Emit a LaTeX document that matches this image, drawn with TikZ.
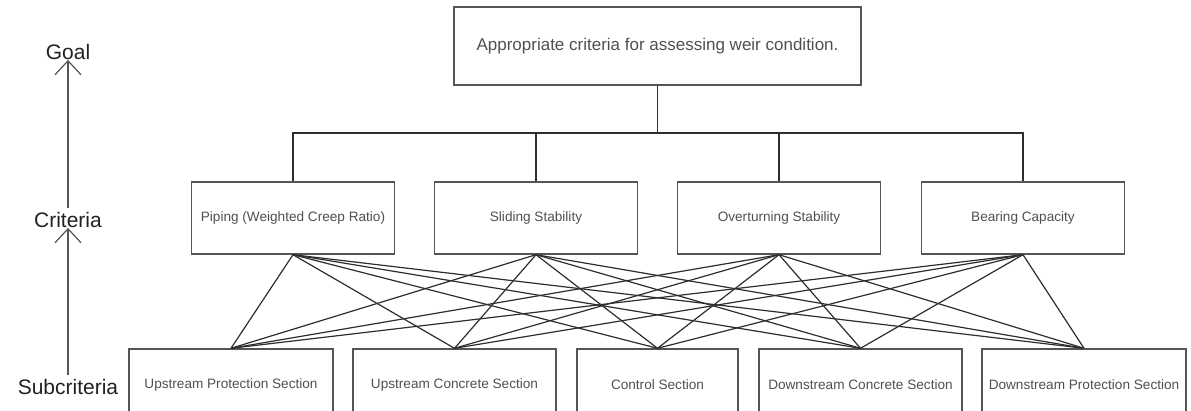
\documentclass[tikz,border=0pt]{standalone}
\usepackage{fontspec}
\setmainfont{Liberation Sans}
\usetikzlibrary{arrows.meta}
\definecolor{boxline}{HTML}{555555}
\definecolor{linkline}{HTML}{2E2E2E}
\definecolor{boxtext}{HTML}{505050}
\definecolor{leveltext}{HTML}{222222}
\tikzset{
  box/.style={draw=boxline, line width=1.4pt, inner sep=0pt, align=center,
              text=boxtext, minimum height=72pt},
  goalbox/.style={box, minimum width=407pt, minimum height=78pt,
                  font=\fontsize{17}{20}\selectfont},
  critbox/.style={box, minimum width=203pt, font=\fontsize{13.6}{16}\selectfont},
  subbox/.style={box, font=\fontsize{13.6}{16}\selectfont},
  link/.style={draw=linkline, line width=1.2pt},
  level/.style={inner sep=0pt, text=leveltext, font=\fontsize{21}{24}\selectfont},
  levelarrow/.style={draw=boxline, line width=1.2pt,
                     -{Straight Barb[length=14pt, width=26pt, line width=1.2pt]}}
}
\begin{document}
\begin{tikzpicture}[x=1pt, y=-1pt]
  \clip (0,0) rectangle (1191,411);
  \fill[white] (0,0) rectangle (1191,411);

  % goal
  \node[goalbox] (goal) at (657.5,46) {Appropriate criteria for assessing weir condition.};

  % criteria
  \node[critbox] (c1) at (293,218) {Piping (Weighted Creep Ratio)};
  \node[critbox] (c2) at (536,218) {Sliding Stability};
  \node[critbox] (c3) at (779,218) {Overturning Stability};
  \node[critbox] (c4) at (1023,218) {Bearing Capacity};

  % subcriteria
  \node[subbox, minimum width=204pt] (s1) at (231,385) {Upstream Protection Section};
  \node[subbox, minimum width=203pt] (s2) at (454.5,385) {Upstream Concrete Section};
  \node[subbox, minimum width=161pt] (s3) at (657.5,385) {Control Section};
  \node[subbox, minimum width=203pt] (s4) at (860.5,385) {Downstream Concrete Section};
  \node[subbox, minimum width=204pt] (s5) at (1084,385) {Downstream Protection Section};

  % goal to criteria: bus line
  \coordinate (bus) at (657.5,133);
  \draw[link] (goal.south) -- (bus);
  \draw[link] (c1.north) |- (bus);
  \draw[link] (c4.north) |- (bus);
  \draw[link] (c2.north) -- (c2.north |- bus);
  \draw[link] (c3.north) -- (c3.north |- bus);

  % every criterion to every subcriterion
  \foreach \c in {c1,c2,c3,c4}{
    \foreach \s in {s1,s2,s3,s4,s5}{
      \draw[link] (\c.south) -- (\s.north);
    }
  }

  % hierarchy levels
  \node[level] (lgoal) at (68,52) {Goal};
  \node[level] (lcrit) at (68,220) {Criteria};
  \node[level] (lsub) at (68,387) {Subcriteria};
  \draw[levelarrow] (lcrit.north) ++(0,-4) -- (lgoal.south);
  \draw[levelarrow] (lsub.north) ++(0,-4) -- (lcrit.south);
\end{tikzpicture}
\end{document}
